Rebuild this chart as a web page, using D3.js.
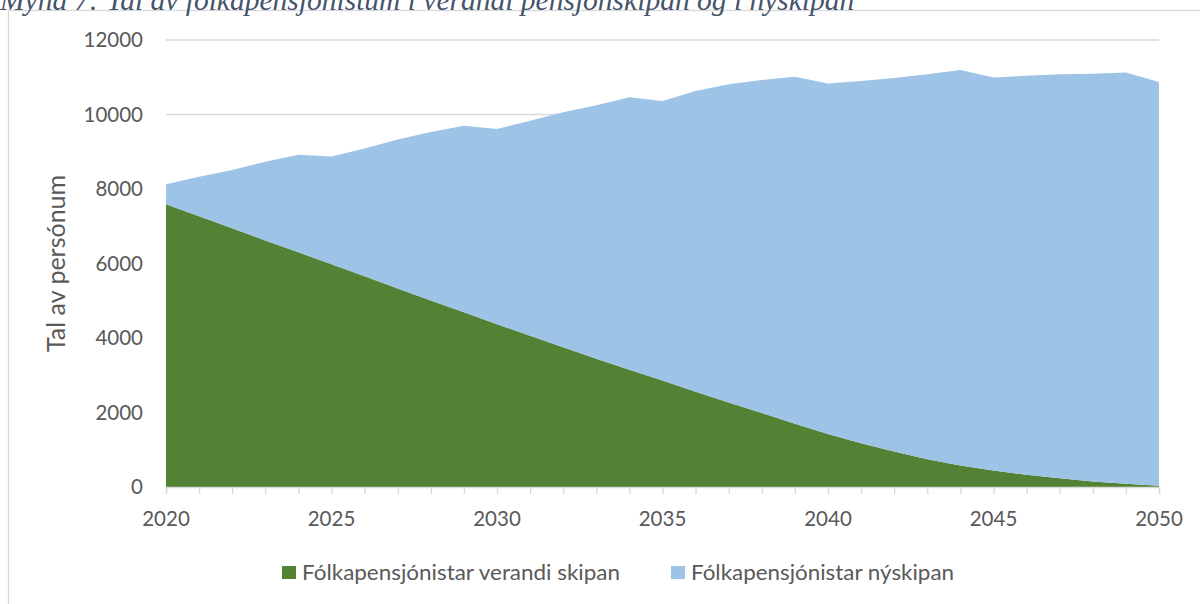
<!DOCTYPE html>
<html lang="fo">
<head>
<meta charset="utf-8">
<title>Mynd 7</title>
<script src="https://d3js.org/d3.v7.min.js"></script>
<style>
  body { margin: 0; background: #fff; }
  svg { display: block; }
  .tick-label { font-family: "Lato", "Open Sans", sans-serif; fill: #595959; }
</style>
</head>
<body>
<div id="chart"></div>
<script>
// data
var years = d3.range(2020, 2051);
var verandi = [7590, 7270, 6945, 6620, 6300, 5980, 5660, 5330, 5010, 4690,
               4370, 4060, 3750, 3440, 3150, 2860, 2560, 2270, 1985, 1700,
               1420, 1175, 950, 745, 575, 440, 330, 235, 150, 90, 35];
var nyskipan = [540, 1060, 1565, 2110, 2620, 2890, 3430, 4000, 4520, 5010,
                5240, 5770, 6310, 6810, 7310, 7505, 8070, 8540, 8940, 9315,
                9415, 9725, 10030, 10335, 10620, 10550, 10710, 10845, 10945, 11035, 10840];
var yTicks = [0, 2000, 4000, 6000, 8000, 10000, 12000];
var xTicks = [2020, 2025, 2030, 2035, 2040, 2045, 2050];
var seriesNames = ["Fólkapensjónistar verandi skipan", "Fólkapensjónistar nýskipan"];
var colors = ["#548235", "#9dc3e6"];
var title = "Mynd 7: Tal av fólkapensjónistum í verandi pensjónskipan og í nýskipan";

var W = 1200, H = 604;
var margin = {top: 40, right: 41, bottom: 117, left: 166};
var width = W - margin.left - margin.right,
    height = H - margin.top - margin.bottom;

var svg = d3.select("#chart").append("svg")
    .attr("width", W)
    .attr("height", H);

// chart frame
svg.append("rect")
    .attr("x", 8.5).attr("y", 10.5)
    .attr("width", 1300).attr("height", 700)
    .attr("fill", "none")
    .attr("stroke", "#d9d9d9")
    .attr("stroke-width", 1.3);

// title (cut at the top like the source)
svg.append("text")
    .attr("x", 0).attr("y", 10)
    .attr("font-family", "'Liberation Serif', serif")
    .attr("font-style", "italic")
    .attr("font-size", 29.5)
    .attr("fill", "#44546a")
    .text(title);

var g = svg.append("g")
    .attr("transform", "translate(" + margin.left + "," + margin.top + ")");

var x = d3.scaleLinear().domain([2020, 2050]).range([0, width]);
var y = d3.scaleLinear().domain([0, 12000]).range([height, 0]);

// gridlines
g.append("g")
  .selectAll("line")
  .data(yTicks.slice(1))
  .enter().append("line")
    .attr("x1", 0).attr("x2", width)
    .attr("y1", function(d) { return y(d); })
    .attr("y2", function(d) { return y(d); })
    .attr("stroke", "#d9d9d9")
    .attr("stroke-width", 1.3);

// stacked areas
var rows = years.map(function(yr, i) {
  return {year: yr, verandi: verandi[i], nyskipan: nyskipan[i]};
});
var stack = d3.stack().keys(["verandi", "nyskipan"]);
var layers = stack(rows);

var area = d3.area()
    .x(function(d) { return x(d.data.year); })
    .y0(function(d) { return y(d[0]); })
    .y1(function(d) { return y(d[1]); });

g.selectAll(".layer")
    .data(layers)
  .enter().append("path")
    .attr("class", "layer")
    .attr("d", area)
    .attr("fill", function(d, i) { return colors[i]; });

// x axis
var xAxis = g.append("g")
    .attr("transform", "translate(0," + height + ")")
    .call(d3.axisBottom(x).tickValues(years).tickSize(7).tickFormat(""));
xAxis.select(".domain").attr("stroke", "#d9d9d9").attr("stroke-width", 1.5);
xAxis.selectAll(".tick line").attr("stroke", "#d9d9d9").attr("stroke-width", 1.3);

g.append("g")
  .selectAll("text")
  .data(xTicks)
  .enter().append("text")
    .attr("class", "tick-label")
    .attr("x", function(d) { return x(d); })
    .attr("y", height + 39)
    .attr("text-anchor", "middle")
    .attr("font-size", 20.5)
    .text(function(d) { return d; });

// y labels
g.append("g")
  .selectAll("text")
  .data(yTicks)
  .enter().append("text")
    .attr("class", "tick-label")
    .attr("x", -23)
    .attr("y", function(d) { return y(d); })
    .attr("dy", "0.35em")
    .attr("text-anchor", "end")
    .attr("font-size", 20.5)
    .text(function(d) { return d; });

// y axis title
svg.append("text")
    .attr("class", "tick-label")
    .attr("transform", "translate(65," + (margin.top + height / 2) + ") rotate(-90)")
    .attr("text-anchor", "middle")
    .attr("font-size", 25)
    .text("Tal av persónum");

// legend
var legendX = [282, 671];
var legendW = [318, 263];
var legend = svg.append("g").selectAll("g")
    .data(seriesNames)
    .enter().append("g")
    .attr("transform", function(d, i) { return "translate(" + legendX[i] + ",566)"; });
legend.append("rect")
    .attr("width", 14).attr("height", 13)
    .attr("fill", function(d, i) { return colors[i]; });
legend.append("text")
    .attr("class", "tick-label")
    .attr("x", 20).attr("y", 13.5)
    .attr("font-size", 21)
    .attr("textLength", function(d, i) { return legendW[i]; })
    .attr("lengthAdjust", "spacingAndGlyphs")
    .text(function(d) { return d; });
</script>
</body>
</html>
